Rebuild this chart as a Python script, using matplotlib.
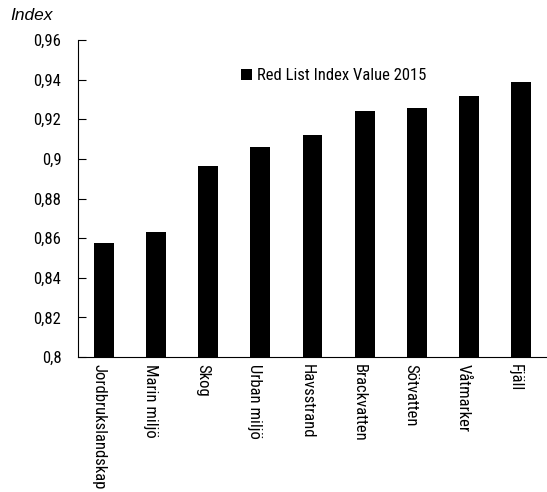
import matplotlib.pyplot as plt
import matplotlib.transforms as mtransforms
from matplotlib.ticker import FuncFormatter

# habitats and their red list index values
habitats = ["Jordbrukslandskap", "Marin miljö", "Skog", "Urban miljö", "Havsstrand",
            "Brackvatten", "Sötvatten", "Våtmarker", "Fjäll"]
rli_2015 = [0.8575, 0.8632, 0.8963, 0.9061, 0.9123, 0.9243, 0.9258, 0.9315, 0.9389]
yticks = [0.80, 0.82, 0.84, 0.86, 0.88, 0.90, 0.92, 0.94, 0.96]

plt.rcParams['font.family'] = ['Roboto Condensed', 'DejaVu Sans']

fig = plt.figure(figsize=(5.47, 4.92), dpi=100)
ax = fig.add_axes([78 / 547, 1 - 357 / 492, 469 / 547, 317 / 492])

ax.bar(range(len(habitats)), rli_2015, width=0.38, color="black",
       label="Red List Index Value 2015")

ax.set_ylim(0.8, 0.96)
ax.set_xlim(-0.5, len(habitats) - 0.5)
ax.set_yticks(yticks)


# swedish style decimal comma, and drop trailing zeros like excel does
def comma_fmt(v, pos):
    s = ("%.2f" % v).rstrip("0").rstrip(".")
    return s.replace(".", ",")


ax.yaxis.set_major_formatter(FuncFormatter(comma_fmt))
ax.set_xticks(range(len(habitats)))
ax.set_xticklabels(habitats, rotation=-90, fontsize=12)
ax.tick_params(axis="x", length=0, pad=5)
ax.tick_params(axis="y", labelsize=12, direction="in", length=6, pad=12)

# the category labels sit a little left of the bar centres in the original
shift = mtransforms.ScaledTranslation(-4 / 72, 0, fig.dpi_scale_trans)
for lbl in ax.get_xticklabels():
    lbl.set_transform(lbl.get_transform() + shift)

ax.spines["top"].set_visible(False)
ax.spines["right"].set_visible(False)

ax.legend(loc="upper left", bbox_to_anchor=(0.315, 0.958), frameon=False,
          fontsize=12, handlelength=0.7, handleheight=0.7, handletextpad=0.3)

fig.text(10 / 547, 1 - 15 / 492, "Index", fontsize=12.5, style="italic",
         va="center", ha="left", family="Liberation Sans")

fig.savefig("out.png", dpi=100)
